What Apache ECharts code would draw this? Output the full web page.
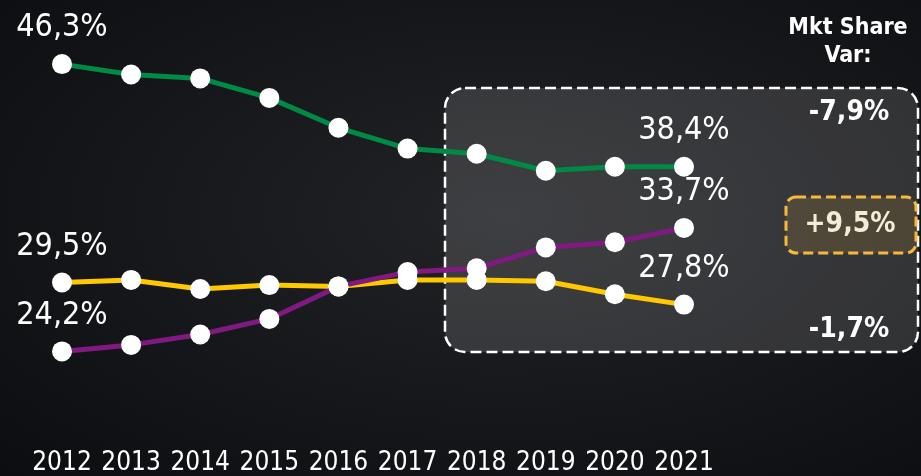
<!DOCTYPE html>
<html lang="en">
<head>
  <meta charset="UTF-8">
  <title>Mkt Share</title>
  <style>
    html, body { margin: 0; padding: 0; }
    #chart {
      width: 921px; height: 476px;
      background: radial-gradient(ellipse at 55% 45%, #222326 0%, #18191c 45%, #0c0d10 100%);
    }
  </style>
</head>
<body>
  <div id="chart"></div>
  <script src="https://cdn.jsdelivr.net/npm/echarts@6/dist/echarts.min.js"></script>
  <script>
  // years on the x axis
  var years = ['2012', '2013', '2014', '2015', '2016', '2017', '2018', '2019', '2020', '2021'];
  // market share, %
  var greenShare  = [46.3, 45.5, 45.2, 43.7, 41.4, 39.8, 39.4, 38.1, 38.4, 38.4];
  var yellowShare = [29.5, 29.7, 29.0, 29.3, 29.2, 29.7, 29.7, 29.6, 28.6, 27.8];
  var purpleShare = [24.2, 24.7, 25.5, 26.7, 29.2, 30.3, 30.6, 32.2, 32.6, 33.7];

  var font = '"DejaVu Sans Condensed", "DejaVu Sans", sans-serif';

  function fmt(v) {
    return v.toFixed(1).replace('.', ',') + '%';
  }
  function variation(arr) {
    var d = arr[arr.length - 1] - arr[0];
    return (d > 0 ? '+' : '') + fmt(d);
  }

  // only first and last points get a label
  function makeSeries(name, arr, color) {
    return {
      name: name,
      type: 'line',
      data: arr,
      symbol: 'circle',
      symbolSize: 20,
      lineStyle: { color: color, width: 5 },
      itemStyle: { color: '#ffffff', borderWidth: 0 },
      label: {
        show: true,
        position: 'top',
        distance: 11,
        color: '#ffffff',
        fontFamily: font,
        fontSize: 32,
        lineHeight: 30,
        formatter: function (p) {
          if (p.dataIndex === 0 || p.dataIndex === arr.length - 1) return fmt(p.value);
          return '';
        }
      },
      emphasis: { disabled: true },
      animation: false
    };
  }

  function centerText(x, y, text, size, color) {
    return {
      type: 'text', x: x, y: y,
      style: { text: text, fill: color, font: 'bold ' + size + 'px ' + font, align: 'center', verticalAlign: 'middle' }
    };
  }

  var myChart = echarts.init(document.getElementById('chart'), null, { renderer: 'canvas' });

  var option = {
    backgroundColor: 'transparent',
    grid: { left: 62, right: 237, top: 16, bottom: 69 },
    xAxis: {
      type: 'category',
      data: years,
      boundaryGap: false,
      axisLine: { show: false },
      axisTick: { show: false },
      axisLabel: { color: '#ffffff', fontFamily: font, fontSize: 26, margin: 44, interval: 0 }
    },
    yAxis: {
      type: 'value',
      min: 20,
      max: 50,
      show: false,
      splitLine: { show: false }
    },
    graphic: [
      // dashed highlight box
      {
        type: 'rect', z: -1,
        shape: { x: 445, y: 88, width: 473, height: 264, r: 20 },
        style: { fill: 'rgba(255,255,255,0.13)', stroke: '#ffffff', lineWidth: 2.5, lineDash: [11, 5] }
      },
      {
        type: 'rect', z: -1,
        shape: { x: 786, y: 197, width: 130, height: 56, r: 10 },
        style: { fill: 'rgba(255,190,60,0.13)', stroke: '#f7b93a', lineWidth: 3, lineDash: [10, 5] }
      },
      centerText(848, 28, 'Mkt Share', 23, '#ffffff'),
      centerText(848, 56, 'Var:', 23, '#ffffff'),
      centerText(849, 113, variation(greenShare), 28, '#ffffff'),
      centerText(850, 225, variation(purpleShare), 28, '#f3ecd6'),
      centerText(849, 330, variation(yellowShare), 28, '#ffffff')
    ],
    series: [
      makeSeries('Yellow', yellowShare, '#ffc800'),
      makeSeries('Purple', purpleShare, '#801a80'),
      makeSeries('Green', greenShare, '#008a45')
    ]
  };

  myChart.setOption(option);
  </script>
</body>
</html>
